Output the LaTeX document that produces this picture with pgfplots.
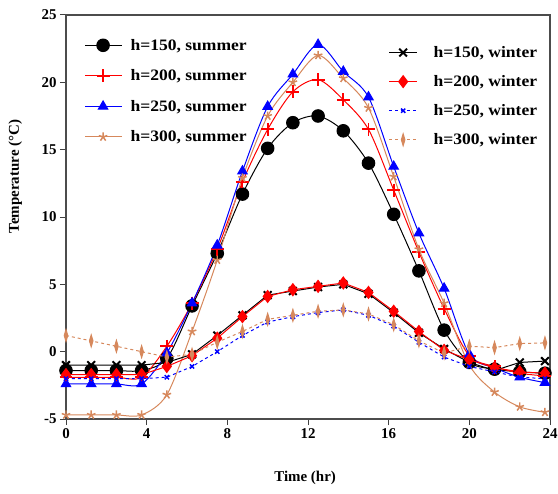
\documentclass[border=0pt]{standalone}
\usepackage{fontspec}
\setmainfont{Liberation Serif}
\newfontfamily\legfont[FakeStretch=1.1]{Liberation Serif}
\usepackage{pgfplots}
\pgfplotsset{compat=1.18}
\usepackage{pgfplotstable}

\definecolor{tanline}{RGB}{214,136,92}

% hourly temperatures, h = air-gap depth
\pgfplotstableread{
t     s150  s200  s250  s300
0     -1.4  -1.9  -2.4  -4.7
1.25  -1.4  -1.9  -2.4  -4.7
2.5   -1.4  -1.9  -2.4  -4.7
3.75  -1.4  -1.9  -2.4  -4.7
5     -0.5   0.4  -0.1  -3.2
6.25   3.4   3.6   3.6   1.5
7.5    7.3   7.6   7.9   6.8
8.75  11.7  12.6  13.4  12.9
10    15.1  16.5  18.2  17.5
11.25 17.0  19.3  20.6  20.0
12.5  17.5  20.2  22.8  22.0
13.75 16.4  18.7  20.8  20.3
15    14.0  16.5  18.9  18.1
16.25 10.2  12.0  13.75 13.0
17.5   6.0   7.4   8.8   7.6
18.75  1.6   3.2   4.7   3.6
20    -0.8  -0.3  -0.2  -1.0
21.25 -1.3  -1.1  -1.2  -3.0
22.5  -1.5  -1.6  -1.9  -4.1
23.75 -1.6  -1.8  -2.3  -4.5
}\summer

\pgfplotstableread{
t     w150  w200  w250  w300
0     -1.0  -1.7  -2.0   1.2
1.25  -1.0  -1.7  -2.0   0.8
2.5   -1.0  -1.7  -2.0   0.4
3.75  -1.0  -1.7  -2.0   0.0
5     -0.8  -1.1  -1.9  -0.4
6.25  -0.2  -0.3  -1.1  -0.2
7.5    1.2   1.0   0.0   0.7
8.75   2.7   2.6   1.2   1.5
10     4.2   4.1   2.2   2.4
11.25  4.5   4.6   2.6   2.7
12.5   4.8   4.85  2.9   3.0
13.75  5.0   5.1   3.1   3.1
15     4.3   4.4   2.7   2.8
16.25  2.9   3.0   1.9   2.0
17.5   1.4   1.5   0.7   0.8
18.75  0.2   0.1  -0.4  -0.1
20    -0.8  -0.6  -1.1   0.4
21.25 -1.4  -1.2  -1.5   0.3
22.5  -0.8  -1.5  -1.9   0.6
23.75 -0.7  -1.6  -2.0   0.65
}\winter

\pgfplotsset{
  frame/.style={
    scale only axis, width=484bp, height=404bp,
    xmin=0, xmax=24, ymin=-5, ymax=25,
  },
}

\begin{document}
\begin{tikzpicture}
\begin{axis}[frame,
  axis line style={black!70, line width=1.2pt},
  xtick={0,4,...,24}, ytick={-5,0,...,25},
  xtick pos=bottom, ytick pos=left, tick align=outside,
  major tick length=6bp,
  tick style={black!75, line width=1pt},
  /pgf/number format/assume math mode=true,
  ticklabel style={font=\fontsize{15}{15}\selectfont\bfseries},
  xlabel={Time (hr)}, ylabel={Temperature (°C)},
  label style={font=\fontsize{15}{15}\selectfont\bfseries},
  xlabel style={at={(axis description cs:0.494,-0.146)}, anchor=center},
  ylabel style={at={(axis description cs:-0.105,0.6)}, anchor=center},
  legend image code/.code={%
    \draw[mark repeat=2, mark phase=2]
      plot coordinates {(0bp,0bp) (18bp,0bp) (36bp,0bp)};},
  legend style={at={(0.038,0.946)}, anchor=north west, draw=none, fill=none,
    font=\fontsize{16}{16}\selectfont\legfont\bfseries, row sep=14bp,
    column sep=7bp,
    inner sep=0pt, nodes={inner sep=2bp}},
  legend cell align=left,
]
\addplot[black, line width=1pt, smooth, mark=*, mark size=6.3pt,
  mark options={solid, fill=black}] table[x=t, y=s150] {\summer};
\addlegendentry{h=150, summer}
\addplot[red, line width=1pt, smooth, mark=+, mark size=6.5pt,
  mark options={solid, line width=2pt}] table[x=t, y=s200] {\summer};
\addlegendentry{h=200, summer}
\addplot[blue, line width=1pt, smooth, mark=triangle*, mark size=5.5pt,
  mark options={solid, fill=blue}] table[x=t, y=s250] {\summer};
\addlegendentry{h=250, summer}
\addplot[tanline, line width=1pt, smooth, mark=star, mark size=4.5pt,
  mark options={solid, line width=1.5pt}] table[x=t, y=s300] {\summer};
\addlegendentry{h=300, summer}
\end{axis}

\begin{axis}[frame, hide axis,
  legend image code/.code={%
    \draw[mark repeat=2, mark phase=2]
      plot coordinates {(0bp,0bp) (14bp,0bp) (28bp,0bp)};},
  legend style={at={(0.978,0.928)}, anchor=north east, draw=none, fill=none,
    font=\fontsize{16}{16}\selectfont\legfont\bfseries, row sep=12.5bp,
    column sep=14bp,
    inner sep=0pt, nodes={inner sep=2bp}},
  legend cell align=left,
]
\addplot[black, line width=1pt, mark=x, mark size=5.5pt,
  mark options={solid, line width=2pt}] table[x=t, y=w150] {\winter};
\addlegendentry{h=150, winter}
\addplot[red, line width=1pt, mark=diamond*, mark size=6pt,
  mark options={solid, fill=red}] table[x=t, y=w200] {\winter};
\addlegendentry{h=200, winter}
\addplot[blue, line width=1pt, dashed, mark=x, mark size=3pt,
  mark options={solid, line width=1.5pt}] table[x=t, y=w250] {\winter};
\addlegendentry{h=250, winter}
\addplot[tanline, line width=1pt, dashed, mark=diamond*, mark size=6pt,
  mark options={solid, fill=tanline, xscale=0.4}] table[x=t, y=w300] {\winter};
\addlegendentry{h=300, winter}
\end{axis}

\pgfresetboundingbox
\path[use as bounding box] ([shift={(-66bp,-75bp)}]current axis.south west)
  rectangle ([shift={(8bp,15bp)}]current axis.north east);
\end{tikzpicture}
\end{document}
